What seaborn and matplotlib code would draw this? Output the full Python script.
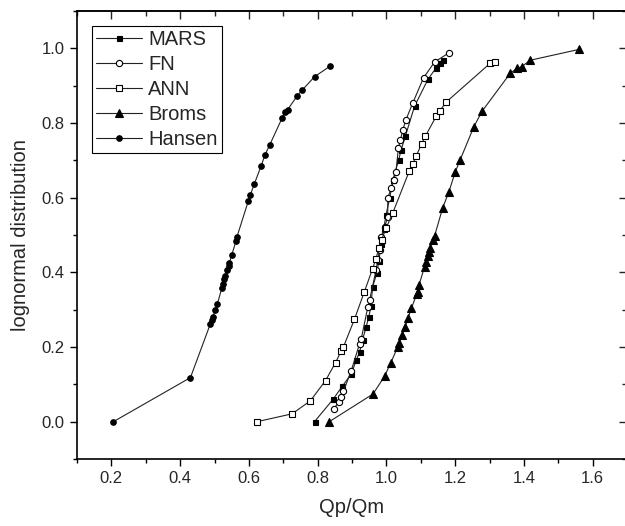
import numpy as np
import pandas as pd
import matplotlib
matplotlib.use('Agg')
import matplotlib.pyplot as plt
import seaborn as sns

# values (Qp/Qm, lognormal distribution)
mars_x = [0.791, 0.845, 0.872, 0.898, 0.912, 0.922, 0.931, 0.941, 0.949, 0.955, 0.960, 0.972, 0.978,
          0.985, 0.992, 0.999, 1.010, 1.019, 1.036, 1.043, 1.055, 1.082, 1.121, 1.145, 1.155, 1.164]
mars_y = [0.000, 0.060, 0.095, 0.128, 0.164, 0.186, 0.220, 0.254, 0.280, 0.310, 0.361, 0.397, 0.430,
          0.477, 0.515, 0.554, 0.600, 0.648, 0.702, 0.728, 0.764, 0.845, 0.917, 0.948, 0.962, 0.970]

fn_x = [0.847, 0.861, 0.868, 0.875, 0.898, 0.922, 0.927, 0.946, 0.951, 0.970, 0.975, 0.980, 0.985, 0.995,
        1.004, 1.004, 1.014, 1.022, 1.028, 1.035, 1.041, 1.048, 1.057, 1.077, 1.108, 1.140, 1.182]
fn_y = [0.034, 0.052, 0.065, 0.081, 0.137, 0.209, 0.222, 0.307, 0.325, 0.406, 0.433, 0.460, 0.495, 0.522,
        0.549, 0.598, 0.626, 0.648, 0.670, 0.733, 0.755, 0.782, 0.809, 0.854, 0.921, 0.963, 0.988]

ann_x = [0.624, 0.726, 0.779, 0.823, 0.852, 0.868, 0.875, 0.907, 0.936, 0.960, 0.970, 0.978, 0.986,
         1.000, 1.019, 1.067, 1.077, 1.087, 1.103, 1.113, 1.145, 1.155, 1.174, 1.302, 1.317]
ann_y = [0.000, 0.021, 0.056, 0.110, 0.158, 0.188, 0.200, 0.274, 0.348, 0.410, 0.437, 0.464, 0.487,
         0.520, 0.560, 0.672, 0.691, 0.712, 0.745, 0.764, 0.818, 0.832, 0.856, 0.960, 0.963]

broms_x = [0.834, 0.961, 0.995, 1.013, 1.033, 1.038, 1.046, 1.055, 1.063, 1.073, 1.088, 1.091, 1.095,
           1.111, 1.116, 1.120, 1.123, 1.126, 1.137, 1.140, 1.164, 1.182, 1.200, 1.215, 1.254, 1.278,
           1.361, 1.380, 1.394, 1.418, 1.560]
broms_y = [0.000, 0.074, 0.122, 0.158, 0.200, 0.212, 0.232, 0.254, 0.278, 0.304, 0.341, 0.348, 0.366,
           0.415, 0.428, 0.443, 0.455, 0.465, 0.487, 0.497, 0.573, 0.616, 0.668, 0.702, 0.789, 0.831,
           0.934, 0.946, 0.951, 0.968, 0.997]

hansen_x = [0.206, 0.430, 0.488, 0.492, 0.495, 0.502, 0.508, 0.521, 0.524, 0.527, 0.531, 0.537, 0.541,
            0.543, 0.550, 0.563, 0.565, 0.598, 0.604, 0.616, 0.636, 0.647, 0.661, 0.697, 0.706, 0.713,
            0.740, 0.755, 0.791, 0.836]
hansen_y = [0.000, 0.118, 0.262, 0.272, 0.280, 0.298, 0.314, 0.357, 0.368, 0.381, 0.390, 0.406, 0.417,
            0.424, 0.446, 0.485, 0.494, 0.590, 0.607, 0.637, 0.686, 0.715, 0.742, 0.814, 0.829, 0.836,
            0.872, 0.888, 0.924, 0.952]

series = [
    ('MARS', mars_x, mars_y, dict(marker='s', markersize=3.6, markerfacecolor='black')),
    ('FN', fn_x, fn_y, dict(marker='o', markersize=4.5, markerfacecolor='white')),
    ('ANN', ann_x, ann_y, dict(marker='s', markersize=4, markerfacecolor='white')),
    ('Broms', broms_x, broms_y, dict(marker='^', markersize=5.8, markerfacecolor='black')),
    ('Hansen', hansen_x, hansen_y, dict(marker='o', markersize=4, markerfacecolor='black')),
]

sns.set_style('ticks')
plt.rcParams['font.family'] = ['Liberation Sans', 'DejaVu Sans']

fig = plt.figure(figsize=(6.25, 5.26), dpi=100)
ax = fig.add_axes([0.1232, 0.1274, 0.880, 0.8517])

for name, xs, ys, style in series:
    df = pd.DataFrame({'x': xs, 'y': ys})
    sns.lineplot(data=df, x='x', y='y', ax=ax, sort=False, estimator=None,
                 color='#222222', linewidth=0.8, markeredgecolor='black',
                 markeredgewidth=0.8, label=name, **style)

ax.set_xlim(0.1, 1.7)
ax.set_ylim(-0.1, 1.1)
ax.set_xticks(np.arange(0.2, 1.61, 0.2))
ax.set_xticks(np.arange(0.1, 1.71, 0.1), minor=True)
ax.set_yticks(np.arange(0.0, 1.01, 0.2))
ax.set_yticks(np.arange(-0.1, 1.11, 0.1), minor=True)
ax.xaxis.set_major_formatter(matplotlib.ticker.FormatStrFormatter('%.1f'))
ax.yaxis.set_major_formatter(matplotlib.ticker.FormatStrFormatter('%.1f'))
ax.tick_params(which='major', direction='out', length=5, width=1, labelsize=12, pad=4, color='black')
ax.tick_params(which='minor', direction='out', length=3, width=1, color='black')

for s in ax.spines.values():
    s.set_color('black')
    s.set_linewidth(1.2)

# inward ticks on top and right, like the original software
top = ax.secondary_xaxis('top')
top.set_xticks(np.arange(0.2, 1.61, 0.2))
top.set_xticks(np.arange(0.1, 1.71, 0.1), minor=True)
top.tick_params(which='major', direction='in', length=6, width=1, labeltop=False)
top.tick_params(which='minor', direction='in', length=3.5, width=1)
top.spines['top'].set_linewidth(1.2)
right = ax.secondary_yaxis('right')
right.set_yticks(np.arange(0.0, 1.01, 0.2))
right.set_yticks(np.arange(-0.1, 1.11, 0.1), minor=True)
right.tick_params(which='major', direction='in', length=6, width=1, labelright=False)
right.tick_params(which='minor', direction='in', length=3.5, width=1)
right.spines['right'].set_linewidth(1.2)

ax.set_xlabel('Qp/Qm', fontsize=14.5, labelpad=8)
ax.set_ylabel('lognormal distribution', fontsize=14.5, labelpad=8)

leg = ax.legend(loc='upper left', bbox_to_anchor=(0.027, 0.967), borderaxespad=0,
                fontsize=14.5, frameon=True, fancybox=False, framealpha=1,
                edgecolor='black', handlelength=2.3, handletextpad=0.3,
                labelspacing=0.3, borderpad=0.2)
leg.get_frame().set_linewidth(0.8)

fig.savefig('out.png', dpi=100)
